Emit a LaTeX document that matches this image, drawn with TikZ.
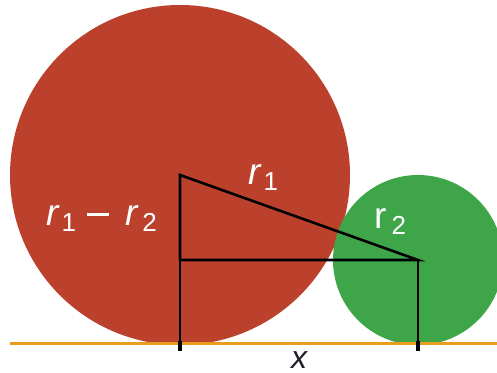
\documentclass[tikz,border=0pt]{standalone}
\usepackage{fontspec}
\setmainfont{Liberation Sans}
\definecolor{bigred}{RGB}{187,65,45}
\definecolor{smallgreen}{RGB}{62,166,72}
\definecolor{groundorange}{RGB}{232,157,30}
\definecolor{labelink}{RGB}{30,30,40}
\newcommand{\subidx}[1]{\raisebox{-6bp}{\fontsize{26bp}{26bp}\selectfont #1}}
\newcommand{\minusbar}{\rule[9bp]{22bp}{2.6bp}}
\begin{document}
\begin{tikzpicture}[x=1bp,y=-1bp,
  leg/.style={draw=black,line width=2.6bp},
  tickmark/.style={draw=black,line width=4bp},
  ground/.style={draw=groundorange,line width=3bp},
  lab/.style={text=white,inner sep=0,anchor=base west,font=\fontsize{37bp}{37bp}\selectfont},
  xlab/.style={text=labelink,inner sep=0,anchor=base west,font=\fontsize{32bp}{32bp}\selectfont\itshape}]
\useasboundingbox (0,0) rectangle (497,372);
\clip (0,0) rectangle (497,372);
\coordinate (c1) at (180,175);
\coordinate (c2) at (418,260);
\coordinate (m) at (180,260);
\coordinate (b1) at (180,351);
\coordinate (b2) at (418,351);
\coordinate (t1) at (180,341);
\coordinate (t2) at (418,341);
\coordinate (gl) at (10,343);
\coordinate (gr) at (497,343);
\fill[bigred] (c1) circle (170);
\fill[smallgreen] (c2) circle (85);
\draw[ground] (gl) -- (gr);
\draw[leg,line join=miter] (m) -- (c1) -- (c2) -- (m);
\draw[leg] (m) -- (b1);
\draw[leg] (c2) -- (b2);
\draw[tickmark] (t1) -- (b1);
\draw[tickmark] (t2) -- (b2);
\node[lab] (lr1) at (248,184) {\itshape r\hspace{3bp}\upshape\subidx{1}};
\node[lab] (ldiff) at (46,225) {\itshape r\hspace{3bp}\upshape\subidx{1}\hspace{11bp}\minusbar\hspace{17bp}\itshape r\hspace{4bp}\upshape\subidx{2}};
\node[lab] (lr2) at (374,228) {r\hspace{5bp}\subidx{2}};
\node[xlab] (lx) at (291,368) {x};
\end{tikzpicture}
\end{document}
